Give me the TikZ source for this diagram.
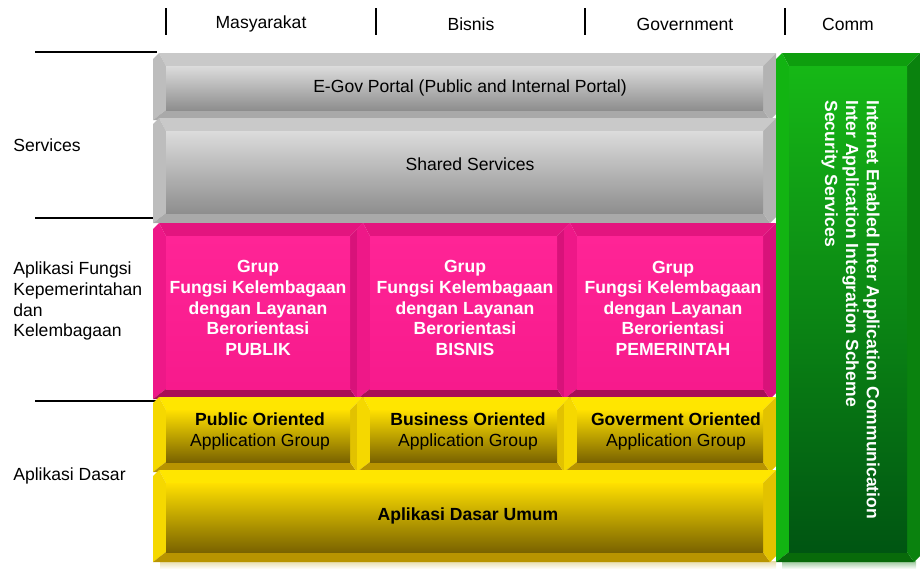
\documentclass[tikz,border=0pt]{standalone}
\usepackage{fontspec}
\setmainfont{Liberation Sans}

% colour families: T top, L left, B bottom, R right, F/G face top/bottom
\definecolor{grayT}{HTML}{C9C9C9}
\definecolor{grayL}{HTML}{BDBDBD}
\definecolor{grayB}{HTML}{A9A9A9}
\definecolor{grayR}{HTML}{B3B3B3}
\definecolor{grayF}{HTML}{DCDCDC}
\definecolor{grayG}{HTML}{8E8E8E}
\definecolor{pinkT}{HTML}{E3157F}
\definecolor{pinkL}{HTML}{EE1888}
\definecolor{pinkB}{HTML}{A80E55}
\definecolor{pinkR}{HTML}{D8127A}
\definecolor{pinkF}{HTML}{FF2496}
\definecolor{pinkG}{HTML}{F71A8C}
\definecolor{yelT}{HTML}{FFE600}
\definecolor{yelL}{HTML}{F5D800}
\definecolor{yelB}{HTML}{B89400}
\definecolor{yelR}{HTML}{E2C200}
\definecolor{yelF}{HTML}{FFE000}
\definecolor{yelG}{HTML}{7A6300}
\definecolor{grnT}{HTML}{0E9E0E}
\definecolor{grnL}{HTML}{12B412}
\definecolor{grnB}{HTML}{086A0A}
\definecolor{grnR}{HTML}{0A820E}
\definecolor{grnF}{HTML}{16B816}
\definecolor{grnG}{HTML}{005512}
\definecolor{yelS}{HTML}{E6DBA8}
\definecolor{grnS}{HTML}{98C698}

% bevelled block: outer x1,y1,x2,y2 (pixels) and colour family
\newcommand{\blok}[5]{%
  \fill[#5T] (#1+6,#2) -- (#3,#2) -- (#3-13,#2+13) -- (#1+13,#2+13) -- cycle;
  \fill[#5L] (#1,#2+6) -- (#1+6,#2) -- (#1+13,#2+13) -- (#1+13,#4-10) -- (#1,#4) -- cycle;
  \fill[#5B] (#1,#4) -- (#1+13,#4-10) -- (#3-13,#4-10) -- (#3-6,#4) -- cycle;
  \fill[#5R] (#3,#2) -- (#3,#4-6) -- (#3-6,#4) -- (#3-13,#4-10) -- (#3-13,#2+13) -- cycle;
  \shade[top color=#5F, bottom color=#5G] (#1+13,#2+13) rectangle (#3-13,#4-10);
}

\tikzset{
  colhead/.style={font=\fontsize{10}{12}\selectfont},
  rowlbl/.style={anchor=west, align=left, inner sep=0pt, font=\fontsize{10}{11.9}\selectfont},
  pinktxt/.style={align=center, text=white, font=\bfseries\fontsize{10}{11.7}\selectfont},
  yeltxt/.style={align=center, font=\fontsize{10}{11.9}\selectfont},
  graytxt/.style={font=\fontsize{10}{12}\selectfont},
}

\begin{document}
\begin{tikzpicture}[x=0.02cm, y=-0.02cm]
	\useasboundingbox (0,0) rectangle (920,569);

	% column heads
	\foreach \x in {166,376,585,785}
		\draw[line width=0.8pt] (\x,8) -- (\x,35);
	\node[colhead] (masy) at (261,24) {Masyarakat};
	\node[colhead] (bis) at (471,24) {Bisnis};
	\node[colhead] (gov) at (685,24) {Government};
	\node[colhead] (comm) at (848,24) {Comm};

	% row separators and labels
	\foreach \y in {52,218,401}
		\draw[line width=0.6pt] (35,\y) -- (157,\y);
	\node[rowlbl] (svc) at (13,145) {Services};
	\node[rowlbl] (afk) at (13,301) {Aplikasi Fungsi\\Kepemerintahan\\dan\\Kelembagaan};
	\node[rowlbl] (ad) at (13,476) {Aplikasi Dasar};

	% soft reflections
	\shade[top color=yelS, bottom color=white] (160,561) rectangle (776,569);
	\shade[top color=grnS, bottom color=white] (782,561) rectangle (916,569);

	% services
	\blok{153}{53}{776}{120}{gray}
	\node[graytxt] (egov) at (470,88) {E-Gov Portal (Public and Internal Portal)};
	\blok{153}{118}{776}{223}{gray}
	\node[graytxt] (shared) at (470,164) {Shared Services};

	% institutional function groups
	\blok{153}{223}{363}{399}{pink}
	\blok{357}{223}{570}{399}{pink}
	\blok{564}{223}{776}{399}{pink}
	\node[pinktxt] (gpub) at (258,308) {Grup\\Fungsi Kelembagaan\\dengan Layanan\\Berorientasi\\PUBLIK};
	\node[pinktxt] (gbis) at (465,308) {Grup\\Fungsi Kelembagaan\\dengan Layanan\\Berorientasi\\BISNIS};
	\node[pinktxt] (gpem) at (673,308) {Grup\\Fungsi Kelembagaan\\dengan Layanan\\Berorientasi\\PEMERINTAH};

	% basic applications
	\blok{153}{397}{363}{472}{yel}
	\blok{357}{397}{570}{472}{yel}
	\blok{564}{397}{776}{472}{yel}
	\node[yeltxt] (apub) at (260,431) {\textbf{Public Oriented}\\Application Group};
	\node[yeltxt] (abis) at (468,431) {\textbf{Business Oriented}\\Application Group};
	\node[yeltxt] (agov) at (676,431) {\textbf{Goverment Oriented}\\Application Group};
	\blok{153}{470}{776}{562}{yel}
	\node[yeltxt, font=\bfseries\fontsize{10}{12}\selectfont] (umum) at (468,516) {Aplikasi Dasar Umum};

	% communication column
	\blok{776}{53}{920}{562}{grn}
	\node[pinktxt, align=left, rotate=-90, anchor=north west, inner sep=0pt,
		font=\bfseries\fontsize{10}{11.9}\selectfont] (iac) at (880,100)
		{Internet Enabled Inter Application Communication\\Inter Application Integration Scheme\\Security Services};
\end{tikzpicture}
\end{document}
